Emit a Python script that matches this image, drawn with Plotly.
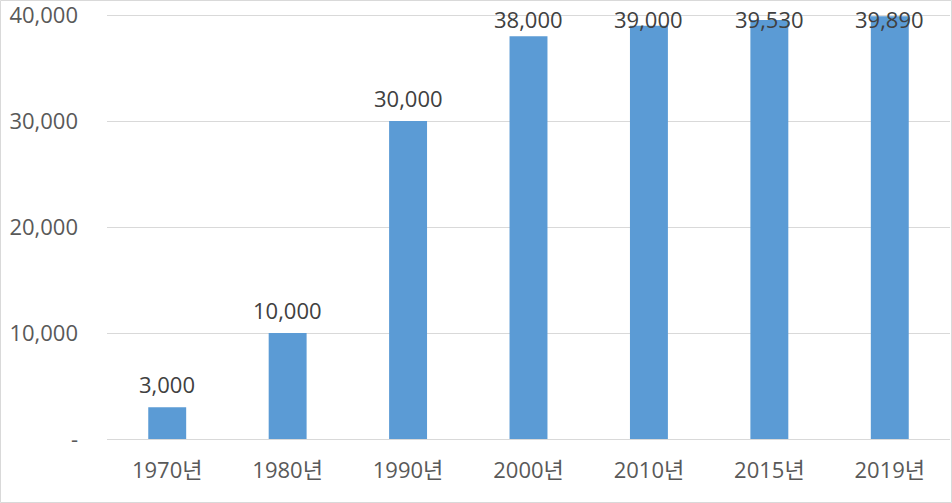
import plotly.graph_objects as go

categories = ["1970년", "1980년", "1990년", "2000년", "2010년", "2015년", "2019년"]
values = [3000, 10000, 30000, 38000, 39000, 39530, 39890]
tick_vals = [0, 10000, 20000, 30000, 40000]
tick_text = ["-", "10,000", "20,000", "30,000", "40,000"]

W, H = 952, 503
ml, mr, mt, mb = 107, 2, 13, 64
pw, ph = W - ml - mr, H - mt - mb
yrange_max = 40200

font_family = "Open Sans, Noto Sans CJK KR, sans-serif"
fs = 22

fig = go.Figure(go.Bar(
    x=categories, y=values,
    marker=dict(color="#5B9BD5", line=dict(width=0)),
    width=0.315,
    hoverinfo="x+y",
))

# data labels: 23px above bar top, clamped so they stay inside the chart (like Excel)
annotations = []
for c, v in zip(categories, values):
    center_px = mt + ph * (1 - v / yrange_max) - 23
    center_px = max(center_px, 19)
    yp = 1 - (center_px - mt) / ph
    annotations.append(dict(x=c, y=yp, xref="x", yref="paper", text=f"{v:,}",
                            showarrow=False, yanchor="middle", xanchor="center",
                            font=dict(size=fs, color="#404040", family=font_family)))

fig.update_layout(
    width=W, height=H,
    margin=dict(l=ml, r=mr, t=mt, b=mb, autoexpand=False),
    paper_bgcolor="white", plot_bgcolor="white",
    showlegend=False,
    font=dict(family=font_family, size=fs, color="#595959"),
    xaxis=dict(showgrid=False, showline=True, linecolor="#D9D9D9", linewidth=1,
               ticks="", tickfont=dict(size=fs, color="#595959"), ticklabelstandoff=12,
               automargin=False),
    yaxis=dict(range=[0, yrange_max], tickvals=tick_vals, ticktext=tick_text,
               showgrid=True, gridcolor="#D9D9D9", gridwidth=1, zeroline=False,
               showline=False, ticks="", tickfont=dict(size=fs, color="#595959"),
               ticklabelstandoff=28, automargin=False, ticklabeloverflow="allow"),
    annotations=annotations,
    shapes=[dict(type="rect", xref="paper", yref="paper",
                 x0=(0.5 - ml) / pw, x1=(W - 0.5 - ml) / pw,
                 y0=-(mb - 0.5) / ph, y1=(ph + mt - 0.5) / ph,
                 line=dict(color="#D9D9D9", width=1), layer="below")],
)

fig.write_html("out.html", config={"displayModeBar": False},
               post_script="document.body.style.margin='0';")
